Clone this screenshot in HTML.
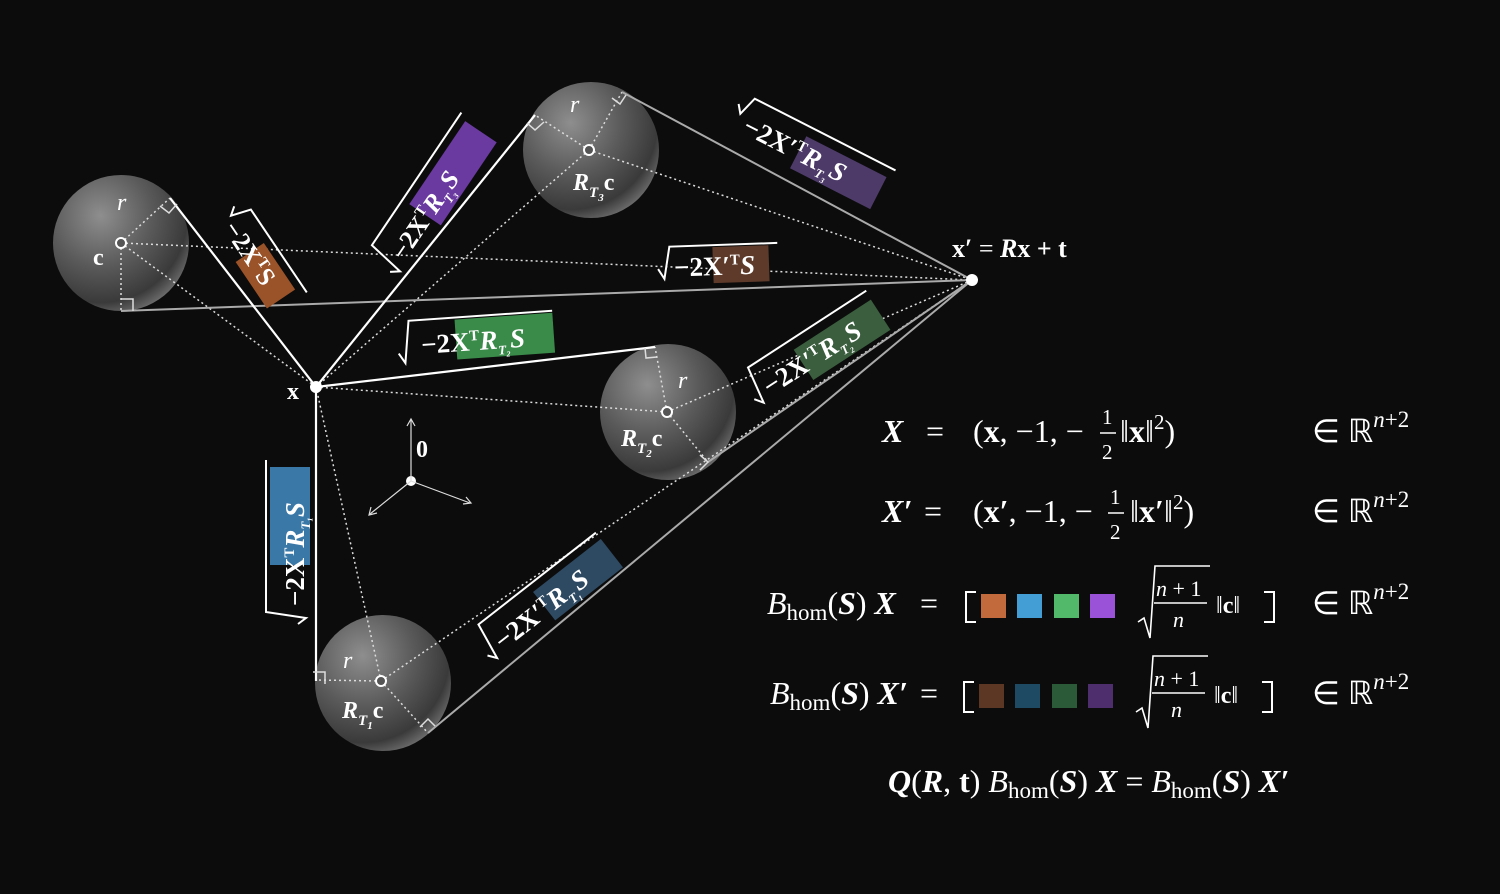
<!DOCTYPE html>
<html><head><meta charset="utf-8"><style>
html,body{margin:0;padding:0;background:#0c0c0c;}
svg{display:block}
text{font-family:"Liberation Serif",serif;fill:#fff}
.b{font-weight:bold}
.i{font-style:italic}
</style></head><body>
<svg width="1500" height="894" viewBox="0 0 1500 894" xmlns="http://www.w3.org/2000/svg">
<defs>
<radialGradient id="sg" cx="0.35" cy="0.3" r="0.75">
<stop offset="0" stop-color="#8e8e8e"/><stop offset="0.5" stop-color="#5a5a5a"/><stop offset="0.85" stop-color="#3a3a3a"/><stop offset="1" stop-color="#6a6a6a"/>
</radialGradient>
</defs>
<rect width="1500" height="894" fill="#0c0c0c"/>
<circle cx="121" cy="243" r="68" fill="url(#sg)"/>
<circle cx="591" cy="150" r="68" fill="url(#sg)"/>
<circle cx="668" cy="412" r="68" fill="url(#sg)"/>
<circle cx="383" cy="683" r="68" fill="url(#sg)"/>

<g stroke="#ddd" stroke-width="1.5" stroke-dasharray="2,3" fill="none">
<line x1="121" y1="243" x2="316" y2="387"/><line x1="121" y1="243" x2="972" y2="280"/>
<line x1="121" y1="243" x2="170" y2="198"/><line x1="121" y1="243" x2="121" y2="311"/>
<line x1="589" y1="150" x2="316" y2="387"/><line x1="589" y1="150" x2="972" y2="280"/>
<line x1="589" y1="150" x2="535" y2="115"/><line x1="589" y1="150" x2="622" y2="92"/>
<line x1="667" y1="412" x2="316" y2="387"/><line x1="667" y1="412" x2="972" y2="280"/>
<line x1="667" y1="412" x2="655" y2="347"/><line x1="667" y1="412" x2="708" y2="462"/>
<line x1="381" y1="681" x2="316" y2="387"/><line x1="381" y1="681" x2="972" y2="280"/>
<line x1="381" y1="681" x2="316" y2="680"/><line x1="381" y1="681" x2="428" y2="733"/>
</g>
<g stroke="#aaa" stroke-width="2" fill="none">
<line x1="972" y1="280" x2="622" y2="92"/><line x1="972" y1="280" x2="121" y2="311"/>
<line x1="972" y1="280" x2="708" y2="462"/><line x1="972" y1="280" x2="428" y2="733"/>
</g>
<g stroke="#fff" stroke-width="2.2" fill="none">
<line x1="316" y1="387" x2="170" y2="198"/><line x1="316" y1="387" x2="535" y2="115"/>
<line x1="316" y1="387" x2="655" y2="347"/><line x1="316" y1="387" x2="316" y2="681"/>
</g>
<g stroke="#ddd" stroke-width="1.5" fill="none">
<path d="M160,206 L169,213 L177,204"/><path d="M121,299 L133,299 L133,311"/>
<path d="M527,123 L535,130 L544,122"/><path d="M612,98 L620,104 L626,95"/>
<path d="M645,348 L646,358 L657,357"/><path d="M700,470 L708,462 L700,455"/>
<path d="M313,672 L325,672 L325,684"/><path d="M420,727 L428,719 L435,726"/>
</g>
<g fill="#fff">
<circle cx="316" cy="387" r="6"/><circle cx="972" cy="280" r="6"/><circle cx="411" cy="481" r="5"/>
</g>
<g fill="#555" stroke="#fff" stroke-width="2">
<circle cx="121" cy="243" r="5"/><circle cx="589" cy="150" r="5"/><circle cx="667" cy="412" r="5"/><circle cx="381" cy="681" r="5"/>
</g>
<g stroke="#ddd" stroke-width="1.2" fill="none">
<line x1="411" y1="481" x2="411" y2="420"/><path d="M407,426 L411,419 L415,426"/>
<line x1="411" y1="481" x2="470" y2="503"/><path d="M463,504 L471,503 L466,497"/>
<line x1="411" y1="481" x2="370" y2="514"/><path d="M371,507 L369,515 L377,513"/>
</g>
<text x="416" y="457" font-size="24" class="b">0</text>
<text x="117" y="210" font-size="24" class="i">r</text>
<text x="93" y="265" font-size="24" class="b">c</text>
<text x="570" y="112" font-size="24" class="i">r</text>
<text x="573" y="190" font-size="24" class="b i">R<tspan font-size="15" dy="7">T</tspan><tspan font-size="11" dy="4">3</tspan><tspan dy="-11" font-style="normal">c</tspan></text>
<text x="678" y="388" font-size="24" class="i">r</text>
<text x="621" y="446" font-size="24" class="b i">R<tspan font-size="15" dy="7">T</tspan><tspan font-size="11" dy="4">2</tspan><tspan dy="-11" font-style="normal">c</tspan></text>
<text x="343" y="668" font-size="24" class="i">r</text>
<text x="342" y="718" font-size="24" class="b i">R<tspan font-size="15" dy="7">T</tspan><tspan font-size="11" dy="4">1</tspan><tspan dy="-11" font-style="normal">c</tspan></text>
<text x="287" y="399" font-size="24" class="b">x</text>
<text x="952" y="257" font-size="26" class="b">x′ <tspan font-weight="normal">=</tspan> <tspan font-style="italic">R</tspan>x + t</text>

<g transform="translate(255,255) rotate(56)">
<rect x="-5" y="-14" width="56" height="34" fill="#9a5228"/>
<path d="M-52,-10 L-46,-2 L-40,-22 L60,-22" stroke="#fff" stroke-width="2" fill="none"/>
<text x="-40" y="12" font-size="26" class="b">−2X<tspan font-size="15" dy="-10">T</tspan><tspan dy="10">S</tspan></text>
</g>
<g transform="translate(427,210) rotate(-56)">
<rect x="-5" y="-18" width="100" height="38" fill="#6a3aa0"/>
<path d="M-72,4 L-66,12 L-60,-26 L100,-26" stroke="#fff" stroke-width="2" fill="none"/>
<text x="-56" y="10" font-size="26" class="b">−2X<tspan font-size="15" dy="-10">T</tspan><tspan dy="10" font-style="italic">R</tspan><tspan font-size="13" dy="6" font-style="italic">T₃</tspan><tspan dy="-6" font-style="italic">S</tspan></text>
</g>
<g transform="translate(808,155) rotate(27)">
<rect x="-10" y="-16" width="90" height="36" fill="#4d3a68"/>
<path d="M-85,-14 L-79,-6 L-73,-26 L85,-26" stroke="#fff" stroke-width="2" fill="none"/>
<text x="-70" y="10" font-size="27" class="b">−2X′<tspan font-size="15" dy="-10">T</tspan><tspan dy="10" font-style="italic">R</tspan><tspan font-size="13" dy="6" font-style="italic">T₃</tspan><tspan dy="-6" font-style="italic">S</tspan></text>
</g>
<g transform="translate(718,265) rotate(-2)">
<rect x="-5" y="-18" width="56" height="36" fill="#5e3a2a"/>
<path d="M-60,2 L-54,12 L-48,-20 L60,-20" stroke="#fff" stroke-width="2" fill="none"/>
<text x="-44" y="10" font-size="27" class="b">−2X′<tspan font-size="15" dy="-10">T</tspan><tspan dy="10" font-style="italic">S</tspan></text>
</g>
<g transform="translate(478,340) rotate(-4)">
<rect x="-22" y="-22" width="98" height="40" fill="#3a8a4a"/>
<path d="M-80,8 L-74,18 L-68,-24 L76,-24" stroke="#fff" stroke-width="2" fill="none"/>
<text x="-57" y="10" font-size="27" class="b">−2X<tspan font-size="15" dy="-10">T</tspan><tspan dy="10" font-style="italic">R</tspan><tspan font-size="13" dy="6" font-style="italic">T₂</tspan><tspan dy="-6" font-style="italic">S</tspan></text>
</g>
<g transform="translate(815,355) rotate(-33)">
<rect x="-15" y="-16" width="92" height="36" fill="#3a5e3e"/>
<path d="M-75,4 L-69,12 L-63,-26 L78,-26" stroke="#fff" stroke-width="2" fill="none"/>
<text x="-60" y="10" font-size="27" class="b">−2X′<tspan font-size="15" dy="-10">T</tspan><tspan dy="10" font-style="italic">R</tspan><tspan font-size="13" dy="6" font-style="italic">T₂</tspan><tspan dy="-6" font-style="italic">S</tspan></text>
</g>
<g transform="translate(294,540) rotate(-90)">
<rect x="-25" y="-24" width="98" height="40" fill="#3a78a8"/>
<path d="M-84,4 L-78,12 L-72,-28 L80,-28" stroke="#fff" stroke-width="2" fill="none"/>
<text x="-66" y="10" font-size="27" class="b">−2X<tspan font-size="15" dy="-10">T</tspan><tspan dy="10" font-style="italic">R</tspan><tspan font-size="13" dy="6" font-style="italic">T₁</tspan><tspan dy="-6" font-style="italic">S</tspan></text>
</g>
<g transform="translate(552,600) rotate(-38)">
<rect x="-10" y="-18" width="86" height="36" fill="#2e4a62"/>
<path d="M-85,4 L-79,12 L-73,-26 L76,-26" stroke="#fff" stroke-width="2" fill="none"/>
<text x="-70" y="10" font-size="27" class="b">−2X′<tspan font-size="15" dy="-10">T</tspan><tspan dy="10" font-style="italic">R</tspan><tspan font-size="13" dy="6" font-style="italic">T₁</tspan><tspan dy="-6" font-style="italic">S</tspan></text>
</g>

<g font-size="32">
<text x="882" y="442" class="b i">X</text>
<text x="926" y="442">=</text>
<text x="973" y="442">(<tspan class="b">x</tspan>, −1, −</text>
<text x="1102" y="424" font-size="21">1</text><line x1="1100" y1="433" x2="1116" y2="433" stroke="#fff" stroke-width="1.5"/><text x="1102" y="459" font-size="21">2</text>
<text x="1120" y="442">‖<tspan class="b">x</tspan>‖<tspan font-size="21" dy="-13">2</tspan><tspan dy="13">)</tspan></text>
<text x="1312" y="442">∈ ℝ<tspan font-size="23" dy="-15" font-style="italic">n</tspan><tspan font-size="23">+2</tspan></text>

<text x="882" y="522" class="b i">X′</text>
<text x="924" y="522">=</text>
<text x="973" y="522">(<tspan class="b">x′</tspan>, −1, −</text>
<text x="1110" y="504" font-size="21">1</text><line x1="1108" y1="513" x2="1124" y2="513" stroke="#fff" stroke-width="1.5"/><text x="1110" y="539" font-size="21">2</text>
<text x="1130" y="522">‖<tspan class="b">x′</tspan>‖<tspan font-size="21" dy="-13">2</tspan><tspan dy="13">)</tspan></text>
<text x="1312" y="522">∈ ℝ<tspan font-size="23" dy="-15" font-style="italic">n</tspan><tspan font-size="23">+2</tspan></text>

<text x="767" y="614"><tspan class="i">B</tspan><tspan font-size="23" dy="6">hom</tspan><tspan dy="-6">(</tspan><tspan class="b i">S</tspan>) <tspan class="b i">X</tspan></text>
<text x="920" y="614">=</text>
<path d="M976,592 L966,592 L966,622 L976,622" stroke="#fff" stroke-width="2" fill="none"/>
<rect x="981" y="594" width="25" height="24" fill="#c26a3c"/><rect x="1017" y="594" width="25" height="24" fill="#449ed6"/>
<rect x="1054" y="594" width="25" height="24" fill="#52b86a"/><rect x="1090" y="594" width="25" height="24" fill="#9a52d8"/>
<path d="M1138,622 L1144,618 L1150,638 L1155,566 L1210,566" stroke="#fff" stroke-width="1.6" fill="none"/>
<text x="1156" y="596" font-size="22"><tspan class="i">n</tspan> + 1</text><line x1="1154" y1="603" x2="1207" y2="603" stroke="#fff" stroke-width="1.5"/><text x="1173" y="627" font-size="22" class="i">n</text>
<text x="1216" y="613" font-size="24">‖<tspan class="b">c</tspan>‖</text>
<path d="M1264,592 L1274,592 L1274,622 L1264,622" stroke="#fff" stroke-width="2" fill="none"/>
<text x="1312" y="614">∈ ℝ<tspan font-size="23" dy="-15" font-style="italic">n</tspan><tspan font-size="23">+2</tspan></text>

<text x="770" y="704"><tspan class="i">B</tspan><tspan font-size="23" dy="6">hom</tspan><tspan dy="-6">(</tspan><tspan class="b i">S</tspan>) <tspan class="b i">X′</tspan></text>
<text x="920" y="704">=</text>
<path d="M974,682 L964,682 L964,712 L974,712" stroke="#fff" stroke-width="2" fill="none"/>
<rect x="979" y="684" width="25" height="24" fill="#5c3824"/><rect x="1015" y="684" width="25" height="24" fill="#1f4a64"/>
<rect x="1052" y="684" width="25" height="24" fill="#2a5a38"/><rect x="1088" y="684" width="25" height="24" fill="#4e2e6c"/>
<path d="M1136,712 L1142,708 L1148,728 L1153,656 L1208,656" stroke="#fff" stroke-width="1.6" fill="none"/>
<text x="1154" y="686" font-size="22"><tspan class="i">n</tspan> + 1</text><line x1="1152" y1="693" x2="1205" y2="693" stroke="#fff" stroke-width="1.5"/><text x="1171" y="717" font-size="22" class="i">n</text>
<text x="1214" y="703" font-size="24">‖<tspan class="b">c</tspan>‖</text>
<path d="M1262,682 L1272,682 L1272,712 L1262,712" stroke="#fff" stroke-width="2" fill="none"/>
<text x="1312" y="704">∈ ℝ<tspan font-size="23" dy="-15" font-style="italic">n</tspan><tspan font-size="23">+2</tspan></text>

<text x="888" y="792"><tspan class="b i">Q</tspan>(<tspan class="b i">R</tspan>, <tspan class="b">t</tspan>) <tspan class="i">B</tspan><tspan font-size="23" dy="6">hom</tspan><tspan dy="-6">(</tspan><tspan class="b i">S</tspan>) <tspan class="b i">X</tspan> = <tspan class="i">B</tspan><tspan font-size="23" dy="6">hom</tspan><tspan dy="-6">(</tspan><tspan class="b i">S</tspan>) <tspan class="b i">X′</tspan></text>
</g>
</svg>
</body></html>
